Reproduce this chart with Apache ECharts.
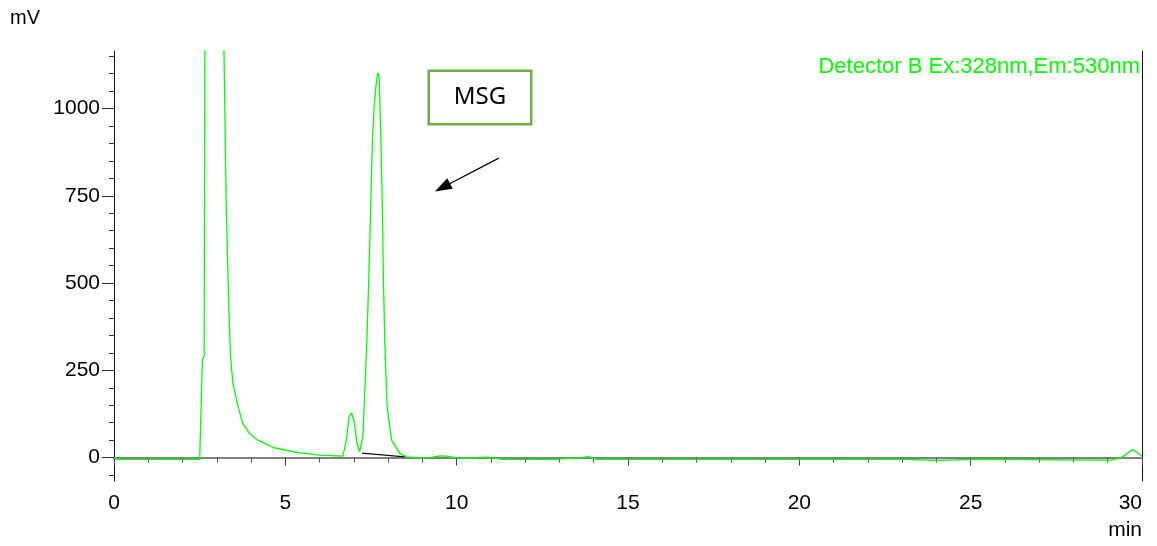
<!DOCTYPE html>
<html>
<head>
<meta charset="utf-8">
<title>Chromatogram - Detector B</title>
<script src="https://cdn.jsdelivr.net/npm/echarts@6/dist/echarts.min.js"></script>
<style>
  html, body { margin: 0; padding: 0; background: #ffffff; }
  #chart { width: 1157px; height: 546px; }
</style>
</head>
<body>
<div id="chart"></div>
<script>
// Retention time (min) and detector signal (mV) of the fluorescence trace
const timeMin = [
  0, 0.1, 2.5, 2.58, 2.63, 2.655, 2.9, 3.19, 3.21, 3.28, 3.35, 3.4, 3.47, 3.62,
  3.76, 3.96, 4.16, 4.35, 4.45, 4.64, 5.32, 6.0, 6.68, 6.78, 6.86, 6.93, 7.0,
  7.09, 7.17, 7.22, 7.26, 7.3, 7.38, 7.44, 7.49, 7.54, 7.59, 7.64, 7.68, 7.71,
  7.74, 7.79, 7.83, 7.86, 7.9, 7.97, 8.1, 8.34, 8.53, 8.9, 9.2, 9.5, 9.7, 10.1,
  10.87, 11.35, 12.9, 13.2, 13.6, 13.85, 14.1, 23.07, 23.12, 24.05, 24.1, 25.17,
  25.22, 29.1, 29.4, 29.72, 29.9, 30.0
];
const signalMv = [
  0, -5, -5, 279, 292, 1300, 3000, 1300, 1160, 700, 432, 289, 213, 146,
  98, 69, 52, 43, 38, 29, 15, 7, 4, 50, 117, 128, 107,
  41, 17, 12, 60, 146, 336, 527, 717, 908, 1003, 1060, 1094, 1102,
  1085, 908, 717, 527, 336, 146, 50, 12, 2, -1, -1, 5, 4, -2,
  1, -5, -5, -2, -1, 3, -5, -5, -8, -8, -5, -5,
  -7, -7, 0, 23, 12, 4
];

// Integration baseline drawn under the MSG peak
const baselineTime = [7.24, 8.48];
const baselineMv = [12.9, 2.3];

// Axis ticks
const xTicks = [0, 5, 10, 15, 20, 25, 30];
const yLabelTicks = [0, 250, 500, 750, 1000];
const yMinorTicks = [-50, 0, 50, 100, 150, 200, 250, 300, 350, 400, 450, 500, 550,
  600, 650, 700, 750, 800, 850, 900, 950, 1000, 1050, 1100, 1150];

// Annotation: label box and arrow pointing at the MSG peak
const msgLabel = 'MSG';
const msgBoxAt = [10.68, 1032];
const arrowFrom = [11.23, 858];
const arrowTo = [9.585, 774];

const detectorName = 'Detector B Ex:328nm,Em:530nm';

const yMin = -67;
const yMax = 1165;

const trace = timeMin.map((t, i) => [t, signalMv[i]]);
const baseline = baselineTime.map((t, i) => [t, baselineMv[i]]);

const font = 'Liberation Sans, Arial, sans-serif';
const chart = echarts.init(document.getElementById('chart'), null, { renderer: 'canvas' });

chart.setOption({
  animation: false,
  backgroundColor: '#ffffff',
  title: [
    { text: 'mV', left: 5, top: 3, textStyle: { fontFamily: font, fontSize: 20, fontWeight: 'normal', color: '#000' } },
    { text: 'min', right: 10, top: 515, textStyle: { fontFamily: font, fontSize: 21, fontWeight: 'normal', color: '#000' } },
    { text: detectorName, right: 12, top: 51, textStyle: { fontFamily: font, fontSize: 22, fontWeight: 'normal', color: '#00ff00' } }
  ],
  grid: { left: 114, right: 15, top: 51, bottom: 65, containLabel: false },
  xAxis: [
    {
      type: 'value', min: xTicks[0], max: xTicks[xTicks.length - 1], interval: 5,
      axisLine: { lineStyle: { color: '#111', width: 2 } },
      axisTick: { show: true, length: 8, lineStyle: { color: '#444', width: 1 } },
      minorTick: { show: true, splitNumber: 5, length: 5, lineStyle: { color: '#555', width: 1 } },
      axisLabel: { margin: 12, fontFamily: font, fontSize: 21, color: '#000', alignMaxLabel: 'right', formatter: v => String(v) },
      splitLine: { show: false }
    },
    {
      type: 'value', position: 'top', min: xTicks[0], max: xTicks[xTicks.length - 1],
      axisLine: { show: true, lineStyle: { color: '#808080', width: 2 } },
      axisTick: { show: false }, axisLabel: { show: false }, splitLine: { show: false }
    }
  ],
  yAxis: [
    {
      type: 'value', min: yMin, max: yMax,
      axisLine: { show: true, lineStyle: { color: '#111', width: 1 } },
      axisTick: { show: true, length: 12, customValues: yLabelTicks, lineStyle: { color: '#333' } },
      axisLabel: { margin: 14, fontFamily: font, fontSize: 21, color: '#000', customValues: yLabelTicks, formatter: v => String(v) },
      splitLine: { show: false }
    },
    {
      type: 'value', position: 'left', min: yMin, max: yMax,
      axisLine: { show: false },
      axisTick: { show: true, length: 5, customValues: yMinorTicks, lineStyle: { color: '#333' } },
      axisLabel: { show: false }, splitLine: { show: false }
    },
    {
      type: 'value', position: 'right', min: yMin, max: yMax,
      axisLine: { show: true, lineStyle: { color: '#111', width: 1 } },
      axisTick: { show: false }, axisLabel: { show: false }, splitLine: { show: false }
    }
  ],
  series: [
    {
      name: detectorName,
      type: 'line',
      data: trace,
      showSymbol: false,
      clip: true,
      lineStyle: { color: '#00ff00', width: 1.3 },
      markPoint: {
        silent: true,
        symbol: 'circle',
        symbolSize: 1,
        itemStyle: { color: 'rgba(0,0,0,0)' },
        label: {
          show: true,
          position: 'inside',
          formatter: msgLabel,
          fontFamily: 'Noto Sans, Open Sans, sans-serif',
          fontSize: 24,
          color: '#000',
          width: 100,
          height: 51,
          lineHeight: 51,
          align: 'center',
          verticalAlign: 'middle',
          backgroundColor: '#ffffff',
          borderColor: '#70ad47',
          borderWidth: 2.5,
          padding: 0
        },
        data: [{ coord: msgBoxAt }]
      },
      markLine: {
        silent: true,
        symbol: ['none', 'triangle'],
        symbolSize: [12, 17],
        label: { show: false },
        lineStyle: { color: '#000', width: 1.2, type: 'solid' },
        data: [[{ coord: arrowFrom }, { coord: arrowTo }]]
      }
    },
    {
      name: 'baseline',
      type: 'line',
      data: baseline,
      showSymbol: false,
      lineStyle: { color: '#111', width: 1.2 }
    }
  ]
});
</script>
</body>
</html>
